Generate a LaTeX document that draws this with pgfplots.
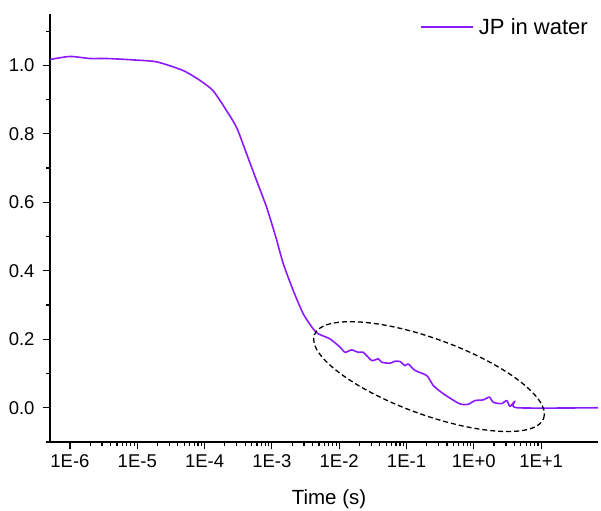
\documentclass[border=0pt]{standalone}
\usepackage{fontspec}
\setmainfont{Liberation Sans}
\usepackage{pgfplots}
\pgfplotsset{compat=1.18}
\usetikzlibrary{calc}
\definecolor{jpviolet}{RGB}{140,25,255}
\begin{document}
\begin{tikzpicture}
\begin{axis}[
  scale only axis,
  width=548bp, height=428bp,
  xmode=log,
  xmin=5.05e-7, xmax=70,
  ymin=-0.1, ymax=1.15,
  axis x line=bottom, axis y line=left,
  axis line style={-, line width=1.5bp, black},
  tick align=outside,
  major tick length=7bp, minor tick length=4bp,
  every tick/.style={black, line width=1.2bp},
  xtick={1e-6,1e-5,1e-4,1e-3,1e-2,1e-1,1,10},
  xticklabels={1E-6,1E-5,1E-4,1E-3,1E-2,1E-1,1E+0,1E+1},
  ytick={0,0.2,0.4,0.6,0.8,1.0},
  minor ytick={-0.1,0.1,0.3,0.5,0.7,0.9,1.1},
  /pgf/number format/assume math mode=true,
  yticklabel style={/pgf/number format/fixed, /pgf/number format/fixed zerofill, /pgf/number format/precision=1, xshift=-5bp},
  xticklabel style={yshift=-2bp},
  ticklabel style={font=\fontsize{18.5bp}{20bp}\selectfont},
  xlabel={Time (s)},
  xlabel style={font=\fontsize{20.5bp}{22bp}\selectfont, xshift=5bp, yshift=-15bp},
  legend style={draw=none, fill=none, at={(1,1)}, anchor=north east, xshift=-5bp, font=\fontsize{22bp}{24bp}\selectfont},
  legend image code/.code={\draw[#1] (0bp,0bp) -- (52bp,0bp); \path (55bp,0bp);},
  clip=false,
]
\addplot[color=jpviolet, line width=1.6bp, line join=round, smooth, tension=0.4] coordinates {
(5.05e-7,1.017) (1e-6,1.026) (1.98e-6,1.020) (3.55e-6,1.020) (8.63e-6,1.016)
(1.96e-5,1.010) (4.78e-5,0.985) (8.55e-5,0.956) (1.35e-4,0.925) (2.13e-4,0.867)
(3.00e-4,0.818) (4.22e-4,0.741) (5.94e-4,0.663) (8.37e-4,0.585) (1.15e-3,0.497)
(1.48e-3,0.420) (2.08e-3,0.342) (2.93e-3,0.274) (4.12e-3,0.230) (4.89e-3,0.216)
(7.29e-3,0.201) (0.0103,0.177) (0.0122,0.162) (0.0153,0.169) (0.0192,0.162)
(0.0228,0.162) (0.0304,0.138) (0.0381,0.143) (0.0429,0.133) (0.0569,0.130)
(0.0675,0.136) (0.0800,0.135) (0.0951,0.123) (0.106,0.128) (0.134,0.109)
(0.200,0.094) (0.250,0.065) (0.352,0.041) (0.557,0.016) (0.661,0.010)
(0.828,0.010) (1.04,0.021) (1.38,0.023) (1.70,0.031) (1.95,0.016)
(2.60,0.012) (3.08,0.021) (3.45,0.004) (4.09,0.019) (4.43,0)
(70,0)
};
\addlegendentry{JP in water}
\draw[black, line width=1.3bp, dash pattern=on 5bp off 3bp, rotate around={-20:(axis cs:0.216,0.091)}]
  (axis cs:0.216,0.091) ellipse [x radius=122bp, y radius=38bp];
\coordinate (O) at (rel axis cs:0,0);
\coordinate (T) at (rel axis cs:1,1);
\end{axis}
\pgfresetboundingbox
\path ($(O)+(-50bp,-69bp)$) rectangle ($(T)+(3bp,14bp)$);
\end{tikzpicture}
\end{document}
